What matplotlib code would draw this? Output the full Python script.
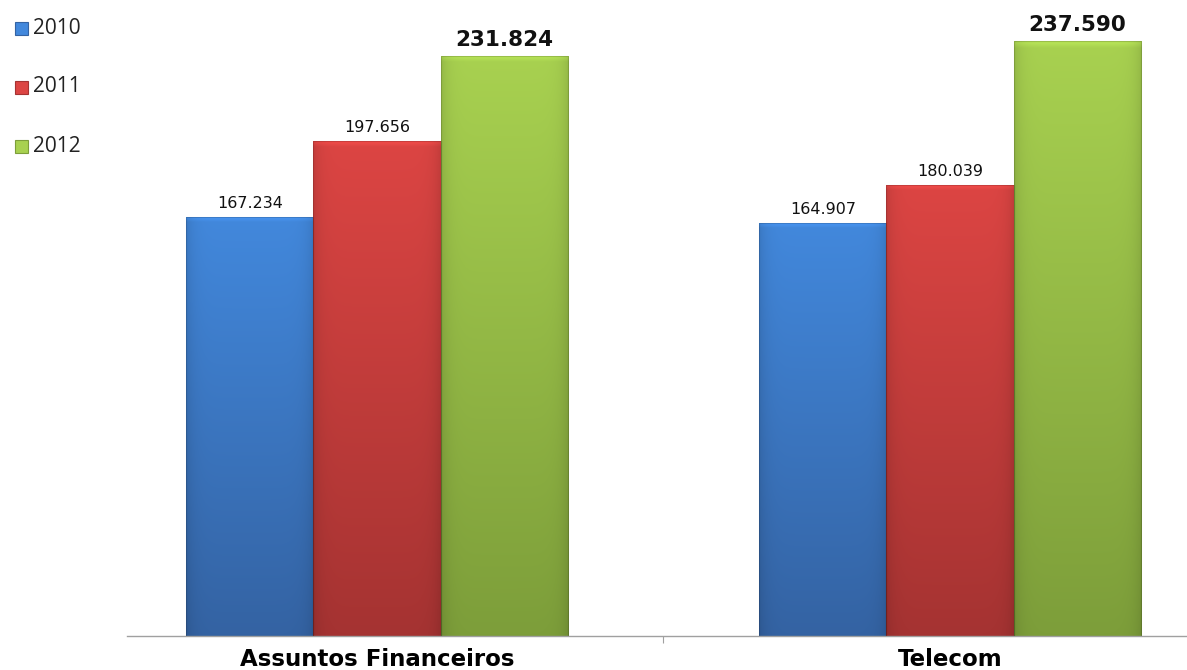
import numpy as np
import matplotlib
matplotlib.use('Agg')
import matplotlib.pyplot as plt
from matplotlib.patches import Rectangle

# --- data --------------------------------------------------------------------
CATEGORIES = ['Assuntos Financeiros', 'Telecom']
YEARS = ['2010', '2011', '2012']
VALUES_2010 = [167.234, 164.907]
VALUES_2011 = [197.656, 180.039]
VALUES_2012 = [231.824, 237.590]
VALUE_LABELS_2010 = ['167.234', '164.907']
VALUE_LABELS_2011 = ['197.656', '180.039']
VALUE_LABELS_2012 = ['231.824', '237.590']

# top / bottom colour of the gradient for each year
COLORS = {
    '2010': ('#4288dc', '#3463a3'),
    '2011': ('#dc4543', '#a53332'),
    '2012': ('#a8d150', '#7d9e3a'),
}

W, H, DPI = 1187, 670, 100


def hex_rgb(h):
    return np.array([int(h[i:i + 2], 16) / 255 for i in (1, 3, 5)])


def gradient_bar(ax, x, width, height, top, bottom):
    top, bottom = hex_rgb(top), hex_rgb(bottom)
    t = np.linspace(0, 1, 128)[:, None]
    col = top * (1 - t) + bottom * t          # row 0 = top
    # slightly darker side edges for a bevel feel
    s = np.linspace(0, 1, 48)
    shade = 1 - 0.10 * (np.abs(s - 0.5) * 2) ** 8
    img = col[:, None, :] * shade[None, :, None]
    img[0] = np.clip(img[0] * 1.08, 0, 1)
    patch = ax.bar(x, height, width, color='none', edgecolor='none', zorder=2)[0]
    im = ax.imshow(img, extent=(x - width / 2, x + width / 2, 0, height),
                   aspect='auto', origin='upper', zorder=2, interpolation='bilinear')
    im.set_clip_path(patch)
    ax.add_patch(Rectangle((x - width / 2, 0), width, height, fill=False,
                           edgecolor=(0, 0, 0, 0.15), linewidth=0.8, zorder=3))


def main():
    fig = plt.figure(figsize=(W / DPI, H / DPI), dpi=DPI)
    ax = fig.add_axes([127 / W, 34 / H, 1 - 127 / W, 636 / H])

    px_per_unit = 573
    ax.set_xlim((127 - 377) / px_per_unit, (W - 377) / px_per_unit)
    ax.set_ylim(0, 254)

    series = [
        (VALUES_2010, VALUE_LABELS_2010, '2010'),
        (VALUES_2011, VALUE_LABELS_2011, '2011'),
        (VALUES_2012, VALUE_LABELS_2012, '2012'),
    ]
    width = 0.222
    x = np.arange(len(CATEGORIES))
    for i, (vals, labs, year) in enumerate(series):
        offs = (i - 1) * width
        bold = year == '2012'
        for xi, v, lab in zip(x, vals, labs):
            gradient_bar(ax, xi + offs, width, v, *COLORS[year])
            ax.annotate(lab, (xi + offs, v),
                        xytext=(0, 16 if bold else 14), textcoords='offset pixels',
                        ha='center', va='center', family='DejaVu Sans',
                        fontsize=15.5 if bold else 11.5,
                        fontweight='bold' if bold else 'normal', color='#111111')

    for sp in ['top', 'right', 'left']:
        ax.spines[sp].set_visible(False)
    ax.spines['bottom'].set_color('#a0a0a0')
    ax.spines['bottom'].set_linewidth(1)
    ax.set_yticks([])
    ax.set_xticks([0.5])
    ax.set_xticklabels([])
    ax.tick_params(axis='x', length=5, color='#a0a0a0', direction='out')
    for xi, cat in zip(x, CATEGORIES):
        ax.annotate(cat, (xi, 0), xytext=(0, -24), textcoords='offset pixels',
                    ha='center', va='center', fontsize=16.5, fontweight='bold',
                    family='DejaVu Sans', color='black', annotation_clip=False)

    # legend at top-left
    for i, year in enumerate(YEARS):
        yc = 28 + i * 59
        top, bottom = COLORS[year]
        fig.patches.append(Rectangle((15 / W, 1 - (yc + 7) / H), 13 / W, 13 / H,
                                     transform=fig.transFigure, facecolor=top,
                                     edgecolor=bottom, linewidth=0.8))
        fig.text(33 / W, 1 - yc / H, year, ha='left', va='center',
                 fontsize=15, family='Open Sans', color='#222222')

    fig.savefig('out.png', dpi=DPI)


if __name__ == '__main__':
    main()
